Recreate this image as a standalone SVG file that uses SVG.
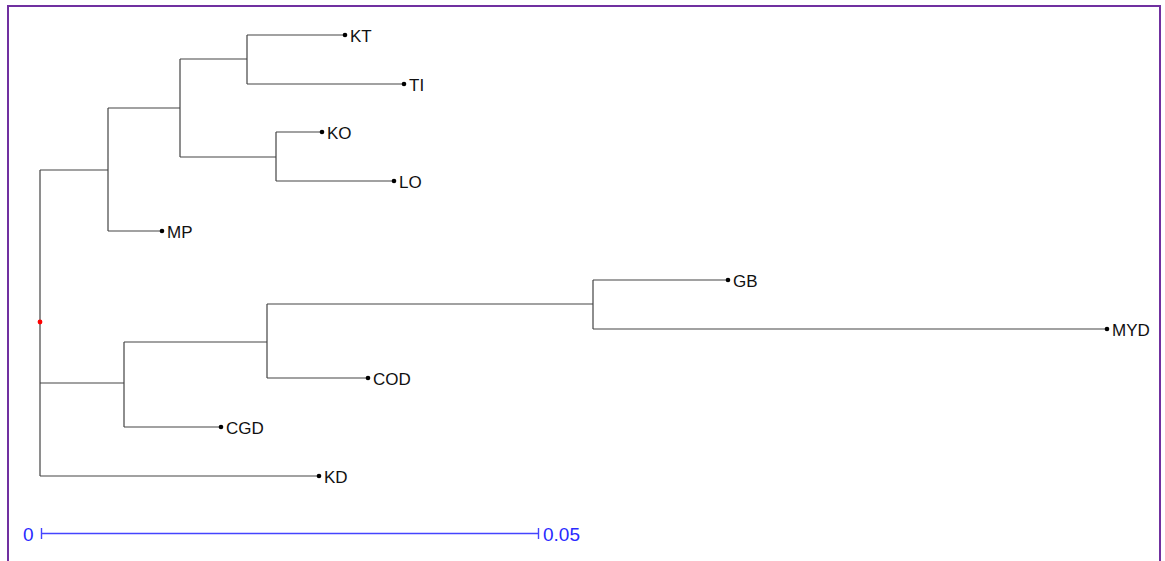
<svg xmlns="http://www.w3.org/2000/svg" width="1165" height="561" viewBox="0 0 1165 561">
<style>
.e{stroke:#444;stroke-width:1.2;fill:none}
.d{fill:#000}
.t{font-family:"Liberation Sans",Arial,sans-serif;font-size:17px;fill:#111;dominant-baseline:central}
.s{font-family:"Liberation Sans",Arial,sans-serif;font-size:19px;fill:#2a2aff;dominant-baseline:central}
</style>
<rect x="0" y="0" width="1165" height="561" fill="#fff"/>
<rect x="8" y="6" width="1152" height="570" fill="none" stroke="#7030a0" stroke-width="2"/>
<g id="connectors">
<path class="e" d="M40,170V476M40,170H108M108,108V231M108,108H180M180,59V157M180,59H247M247,35V84M247,35H345M247,84H404M180,157H276M276,132V181M276,132H322M276,181H394M108,231H162"/>
<path class="e" d="M40,383H124M124,342V427M124,342H267M267,304V378M267,304H593M593,280V329M593,280H728M593,329H1107M267,378H368M124,427H221M40,476H319"/>
<circle cx="40" cy="322" r="2.4" fill="#f00"/>
</g>
<g id="KT"><circle class="d" cx="345" cy="35" r="2.3"/><text class="t" x="350" y="36">KT</text></g>
<g id="TI"><circle class="d" cx="404" cy="84" r="2.3"/><text class="t" x="409" y="85">TI</text></g>
<g id="KO"><circle class="d" cx="322" cy="132" r="2.3"/><text class="t" x="327" y="133">KO</text></g>
<g id="LO"><circle class="d" cx="394" cy="181" r="2.3"/><text class="t" x="399" y="182">LO</text></g>
<g id="MP"><circle class="d" cx="162" cy="231" r="2.3"/><text class="t" x="167" y="232">MP</text></g>
<g id="GB"><circle class="d" cx="728" cy="280" r="2.3"/><text class="t" x="733" y="281">GB</text></g>
<g id="MYD"><circle class="d" cx="1107" cy="329" r="2.3"/><text class="t" x="1112" y="330">MYD</text></g>
<g id="COD"><circle class="d" cx="368" cy="378" r="2.3"/><text class="t" x="373" y="379">COD</text></g>
<g id="CGD"><circle class="d" cx="221" cy="427" r="2.3"/><text class="t" x="226" y="428">CGD</text></g>
<g id="KD"><circle class="d" cx="319" cy="476" r="2.3"/><text class="t" x="324" y="477">KD</text></g>
<g id="scale">
<path d="M41.5,528V539M41.5,533.5H538.5M538.5,528V539" stroke="#4444ff" stroke-width="1.4" fill="none"/>
<text class="s" x="23" y="534">0</text>
<text class="s" x="543" y="534">0.05</text>
</g>
</svg>
